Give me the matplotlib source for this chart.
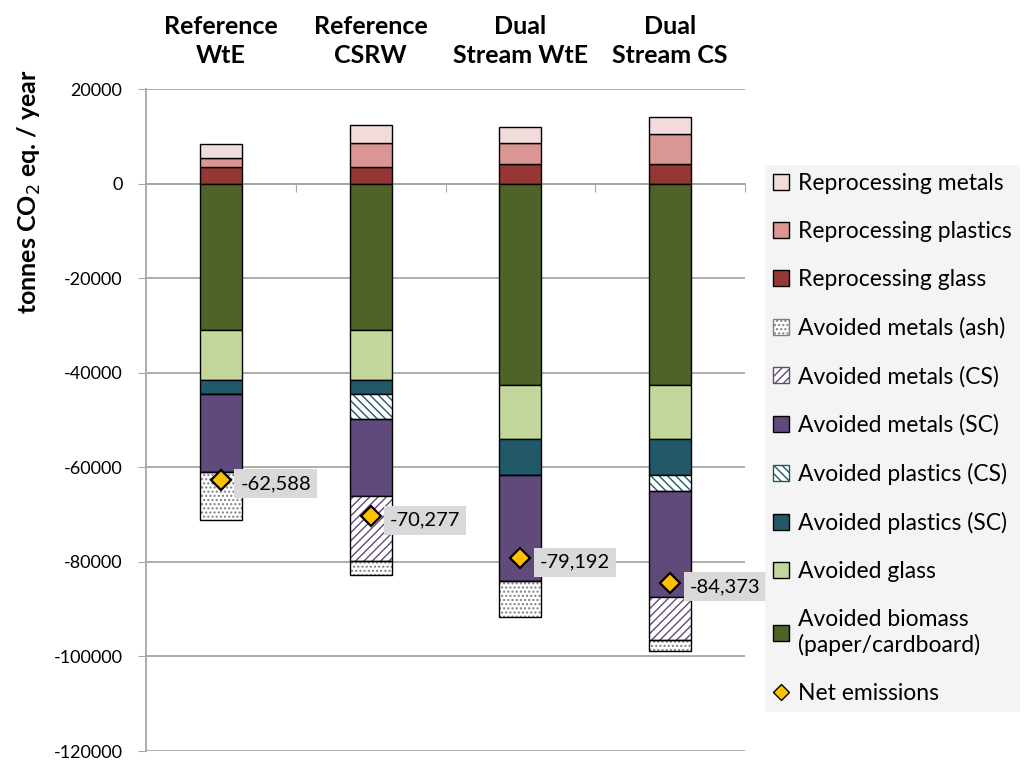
import matplotlib
matplotlib.use("Agg")
import matplotlib.pyplot as plt
import matplotlib.transforms as mtransforms
import numpy as np
from matplotlib.patches import Patch
from matplotlib.lines import Line2D
from matplotlib.ticker import FuncFormatter

plt.rcParams['font.family'] = ['Lato', 'DejaVu Sans']
plt.rcParams['hatch.linewidth'] = 1.0

categories = ["Reference\nWtE", "Reference\nCSRW", "Dual\nStream WtE", "Dual\nStream CS"]

# positive contributions (stacked upwards from 0)
reproc_glass = [3540, 3540, 4090, 4090]
reproc_plastics = [1820, 5130, 4580, 6440]
reproc_metals = [3050, 3820, 3230, 3460]

# avoided emissions (stacked downwards from 0)
avoided_biomass = [-31000, -31000, -42700, -42700]
avoided_glass = [-10600, -10600, -11400, -11400]
avoided_plastics_sc = [-2840, -2840, -7480, -7480]
avoided_plastics_cs = [0, -5360, 0, -3480]
avoided_metals_sc = [-16530, -16260, -22410, -22390]
avoided_metals_cs = [0, -13840, 0, -8970]
avoided_metals_ash = [-10240, -2970, -7570, -2480]

net_emissions = [-62588, -70277, -79192, -84373]

fig = plt.figure(figsize=(10.28, 7.62), dpi=100)
ax = fig.add_axes([146/1028, 1 - 751/762, (745 - 146)/1028, (751 - 89)/762])

x = np.arange(len(categories))
w = 0.28

# (values, facecolor, hatch, hatch colour)
pos_layers = [
    (reproc_glass, '#953735', None, None),
    (reproc_plastics, '#D99694', None, None),
    (reproc_metals, '#F2DCDB', None, None),
]
neg_layers = [
    (avoided_biomass, '#4F6228', None, None),
    (avoided_glass, '#C3D69B', None, None),
    (avoided_plastics_sc, '#215968', None, None),
    (avoided_plastics_cs, 'white', '\\\\\\\\', '#215968'),
    (avoided_metals_sc, '#604A7B', None, None),
    (avoided_metals_cs, 'white', '////', '#604A7B'),
    (avoided_metals_ash, 'white', '....', '#7F7F7F'),
]


def draw(layers):
    base = np.zeros(len(categories))
    for vals, fc, hatch, hc in layers:
        v = np.array(vals, dtype=float)
        if hatch:
            ax.bar(x, v, w, bottom=base, facecolor=fc, edgecolor=hc,
                   hatch=hatch, linewidth=0, zorder=3)
            ax.bar(x, v, w, bottom=base, fill=False, edgecolor='black',
                   linewidth=1.0, zorder=4)
        else:
            ax.bar(x, v, w, bottom=base, facecolor=fc, edgecolor='black',
                   linewidth=1.0, zorder=3)
        base += v


draw(pos_layers)
draw(neg_layers)

ax.plot(x, net_emissions, linestyle='none', marker='D', markersize=10,
        markerfacecolor='#FFC000', markeredgecolor='black',
        markeredgewidth=1.6, zorder=6)
for xi, yv in zip(x, net_emissions):
    ax.annotate(f"{yv:,}", (xi, yv), xytext=(14, -3), textcoords='offset points',
                ha='left', va='center', fontsize=14.5, zorder=7,
                bbox=dict(boxstyle='square,pad=0.3', facecolor='#D9D9D9',
                          edgecolor='none'))

ax.set_xlim(-0.5, 3.5)
ax.set_ylim(-120000, 20000)
ax.set_yticks(np.arange(-120000, 20001, 20000))
ax.yaxis.set_major_formatter(FuncFormatter(lambda v, p: f"{int(v)}"))
ax.tick_params(axis='y', labelsize=13, length=6, color='#A6A6A6', pad=11)
ax.grid(axis='y', color='#A6A6A6', linewidth=1.3, zorder=0)
ax.set_axisbelow(True)

ax.spines['top'].set_visible(False)
ax.spines['right'].set_visible(False)
ax.spines['left'].set_color('#A6A6A6')
ax.spines['left'].set_linewidth(1.3)
ax.spines['bottom'].set_position(('data', 0))
ax.spines['bottom'].set_color('#A6A6A6')
ax.spines['bottom'].set_linewidth(1.3)
ax.set_xticks([0.5, 1.5, 2.5, 3.5])
ax.set_xticklabels([])
ax.tick_params(axis='x', length=6, color='#A6A6A6', direction='out')

ax.set_ylabel("tonnes CO$_2$ eq. / year", fontsize=18, fontweight='bold')
ax.yaxis.set_label_coords(-0.172, (751 - 192) / 662)

top_trans = mtransforms.blended_transform_factory(ax.transData, fig.transFigure)
for xi, lab in zip(x, categories):
    ax.text(xi, 1 - 67/762, lab, transform=top_trans,
            ha='center', va='bottom', fontsize=18, fontweight='bold', linespacing=1.3)

handles = [
    Patch(facecolor='#F2DCDB', edgecolor='black', label='Reprocessing metals'),
    Patch(facecolor='#D99694', edgecolor='black', label='Reprocessing plastics'),
    Patch(facecolor='#953735', edgecolor='black', label='Reprocessing glass'),
    Patch(facecolor='white', edgecolor='#7F7F7F', hatch='....', label='Avoided metals (ash)'),
    Patch(facecolor='white', edgecolor='#604A7B', hatch='////', label='Avoided metals (CS)'),
    Patch(facecolor='#604A7B', edgecolor='black', label='Avoided metals (SC)'),
    Patch(facecolor='white', edgecolor='#215968', hatch='\\\\\\\\', label='Avoided plastics (CS)'),
    Patch(facecolor='#215968', edgecolor='black', label='Avoided plastics (SC)'),
    Patch(facecolor='#C3D69B', edgecolor='black', label='Avoided glass'),
    Patch(facecolor='#4F6228', edgecolor='black', label='Avoided biomass\n(paper/cardboard)'),
    Line2D([], [], linestyle='none', marker='D', markersize=8, markerfacecolor='#FFC000',
           markeredgecolor='black', label='Net emissions'),
]
leg = fig.legend(handles=handles, loc='upper left', bbox_to_anchor=(765/1028, 1 - 165/762),
                 frameon=True, fancybox=False, fontsize=16.5, labelspacing=1.18,
                 handlelength=0.7, handleheight=0.7, handletextpad=0.4,
                 borderaxespad=0, borderpad=0.35)
leg.get_frame().set_facecolor('#F2F2F2')
leg.get_frame().set_edgecolor('none')

fig.savefig("out.png", dpi=100)
